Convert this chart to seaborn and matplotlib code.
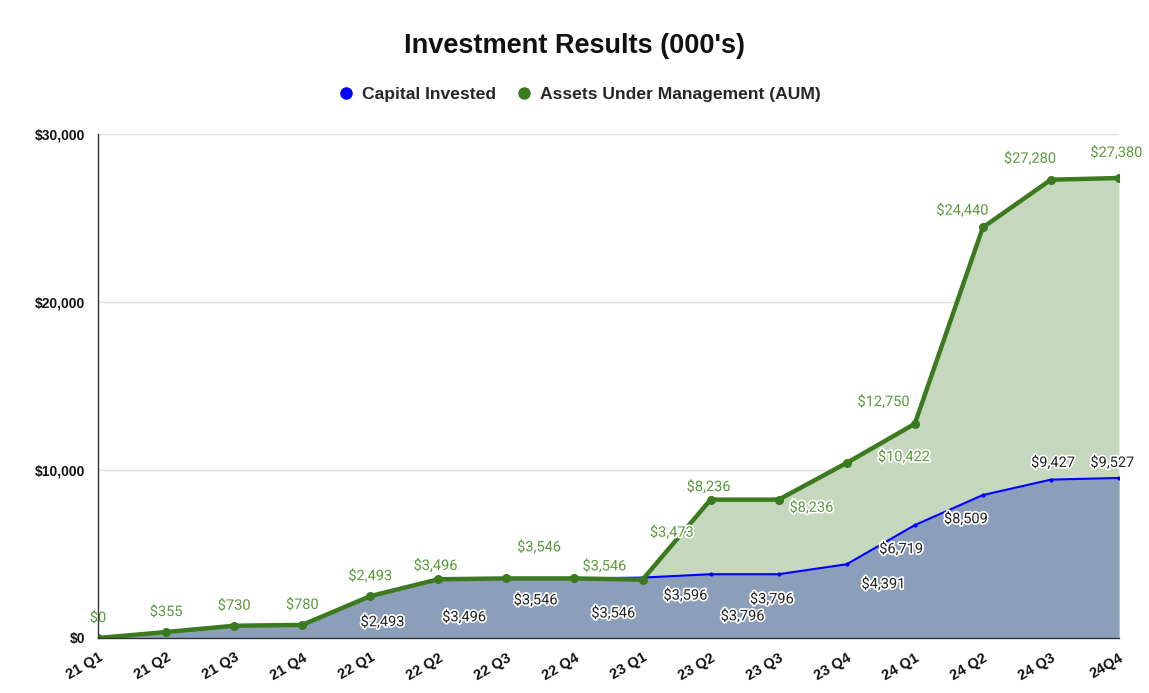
import matplotlib
matplotlib.use("Agg")
import matplotlib.pyplot as plt
import matplotlib.patheffects as pe
from matplotlib.ticker import FixedLocator, FuncFormatter
from matplotlib.lines import Line2D
import seaborn as sns
import pandas as pd

# ---------------- data ----------------
quarters = ["21 Q1", "21 Q2", "21 Q3", "21 Q4", "22 Q1", "22 Q2", "22 Q3", "22 Q4",
            "23 Q1", "23 Q2", "23 Q3", "23 Q4", "24 Q1", "24 Q2", "24 Q3", "24Q4"]
capital = [0, 355, 730, 780, 2493, 3496, 3546, 3546,
           3596, 3796, 3796, 4391, 6719, 8509, 9427, 9527]
aum = [0, 355, 730, 780, 2493, 3496, 3546, 3546,
       3473, 8236, 8236, 10422, 12750, 24440, 27280, 27380]

# label placement offsets (category steps, value units) -- styling only
aum_off = [(0, 1190), (0, 1190), (0, 1190), (0, 1190), (0, 1190), (-0.04, 800),
           (0.48, 1850), (0.44, 720), (0.43, 2800), (-0.03, 750), (0.48, -480),
           (0.84, 350), (-0.46, 1300), (-0.3, 1000), (-0.31, 1250), (-0.04, 1500)]
cap_show_from = 4
cap_off = [None, None, None, None, (0.18, -1550), (0.38, -2260), (0.43, -1300),
           (0.57, -2080), (0.63, -1070), (0.47, -2500), (-0.1, -1490),
           (0.54, -1190), (-0.2, -1430), (-0.25, -1430), (0.03, 1000), (-0.1, 900)]

df = pd.DataFrame({"x": range(len(quarters)), "capital": capital, "aum": aum})

# ---------------- style ----------------
sns.set_theme(style="white")
plt.rcParams["font.family"] = ["Liberation Sans", "DejaVu Sans"]

GREEN = "#3b7a1f"
GREEN_FILL = "#c5d7bd"
GREEN_TXT = "#5b9a3c"
BLUE = "#0000ff"
BLUE_FILL = "#8b9fbb"

fig = plt.figure(figsize=(11.49, 6.93), dpi=100)
ax = fig.add_axes([98 / 1149, 55 / 693, (1119 - 98) / 1149, (638 - 134) / 693])

# areas
ax.fill_between(df["x"], 0, df["aum"], color=GREEN_FILL, lw=0, zorder=1)
ax.fill_between(df["x"], 0, df["capital"], color=BLUE_FILL, lw=0, zorder=2)

# lines
sns.lineplot(data=df, x="x", y="capital", ax=ax, color=BLUE, lw=1.5,
             marker="o", markersize=3, markeredgewidth=0, zorder=4)
sns.lineplot(data=df, x="x", y="aum", ax=ax, color=GREEN, lw=3.2,
             marker="o", markersize=6.5, markeredgewidth=0, zorder=5)

halo = [pe.withStroke(linewidth=2.5, foreground="white")]
LBL = 10.5
for i, v in enumerate(aum):
    dx, dy = aum_off[i]
    ax.text(i + dx, v + dy, f"${v:,}", color=GREEN_TXT, fontsize=LBL,
            family=["Roboto", "DejaVu Sans"], ha="center", va="center",
            path_effects=halo, zorder=6)
for i, v in enumerate(capital):
    if i < cap_show_from:
        continue
    dx, dy = cap_off[i]
    ax.text(i + dx, v + dy, f"${v:,}", color="#222222", fontsize=LBL,
            family=["Roboto", "DejaVu Sans"], ha="center", va="center",
            path_effects=halo, zorder=6)

# axes
ax.set_xlim(0, len(quarters) - 1)
ax.set_ylim(0, 30000)
ax.set_xlabel("")
ax.set_ylabel("")
ax.set_xticks(range(len(quarters)))
ax.set_xticklabels(quarters, rotation=30, ha="right", rotation_mode="anchor",
                   fontsize=10.5, fontweight="bold", color="#111111")
ax.yaxis.set_major_locator(FixedLocator([0, 10000, 20000, 30000]))
ax.yaxis.set_minor_locator(FixedLocator([5000, 15000, 25000]))
ax.yaxis.set_major_formatter(FuncFormatter(lambda v, p: f"${int(v):,}"))
for t in ax.get_yticklabels():
    t.set_fontweight("bold")
ax.tick_params(axis="y", which="major", direction="inout", length=10, width=0.8,
               color="#444444", labelsize=10, labelcolor="#111111", pad=4)
ax.tick_params(axis="y", which="minor", direction="inout", length=4, width=0.8,
               color="#444444")
ax.tick_params(axis="x", which="major", direction="out", length=7, width=0.8,
               color="#444444", pad=2)
ax.yaxis.grid(True, which="major", color="#dddddd", lw=1)
ax.set_axisbelow(True)
for s in ["top", "right"]:
    ax.spines[s].set_visible(False)
for s in ["left", "bottom"]:
    ax.spines[s].set_color("#333333")
    ax.spines[s].set_linewidth(1)
    ax.spines[s].set_zorder(7)

fig.text(0.5, (693 - 46) / 693, "Investment Results (000's)", ha="center",
         va="center", fontsize=19.5, fontweight="bold", color="#111111")

handles = [Line2D([], [], ls="", marker="o", color=BLUE, markersize=8),
           Line2D([], [], ls="", marker="o", color=GREEN, markersize=8)]
fig.legend(handles, ["Capital Invested", "Assets Under Management (AUM)"],
           loc="center", bbox_to_anchor=(0.5, (693 - 94) / 693), ncol=2,
           frameon=False, handletextpad=-0.1, columnspacing=0.6,
           prop={"weight": "bold", "size": 12.6})

fig.savefig("out.png", dpi=100)
